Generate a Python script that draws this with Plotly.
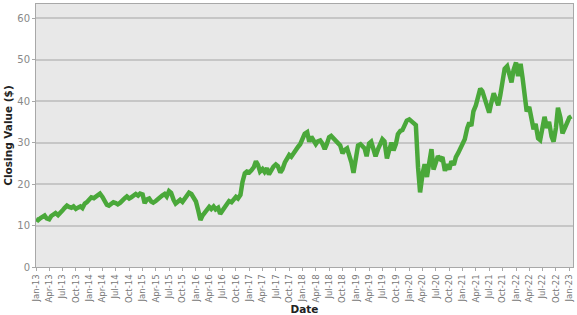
import pandas as pd
import plotly.graph_objects as go

# Semi-monthly closing values (1st and 15th of each month), Jan 2013 - Jan 2023
values = [
    # 2013
    11.6, 11.3, 11.8, 12.2, 12.4, 11.7, 11.5, 12.3, 12.8, 13.0, 12.5, 13.2,
    13.6, 14.2, 14.8, 14.5, 14.3, 14.6, 14.0, 14.3, 14.6, 14.2, 15.3, 15.6,
    # 2014
    16.2, 16.8, 16.6, 16.9, 17.4, 17.7, 16.9, 16.0, 15.0, 14.8, 15.3, 15.6,
    15.4, 15.1, 15.5, 16.1, 16.6, 17.0, 16.5, 16.8, 17.4, 17.6, 17.2, 17.7,
    # 2015
    17.5, 15.4, 16.3, 16.5, 15.8, 15.5, 15.9, 16.4, 16.8, 17.2, 17.6, 17.0,
    18.3, 17.9, 16.2, 15.3, 15.8, 16.2, 15.7, 16.4, 17.5, 17.9, 17.6, 16.9,
    # 2016
    15.8, 13.9, 11.3, 12.4, 13.2, 13.8, 14.5, 14.0, 14.6, 13.9, 14.3, 12.8,
    13.7, 14.6, 15.2, 15.9, 15.6, 16.2, 16.9, 16.5, 17.4, 20.5, 22.6, 23.0,
    # 2017
    22.8, 23.3, 24.1, 25.5, 24.6, 23.0, 23.6, 22.9, 23.8, 22.3, 23.5, 24.2,
    24.7, 24.3, 22.8, 23.5, 25.2, 26.3, 27.0, 26.6, 27.6, 28.3, 29.0, 29.6,
    # 2018
    31.2, 32.1, 32.5, 30.2, 31.4, 30.6, 29.6, 30.3, 30.5, 29.8, 28.4, 29.6,
    31.3, 31.6, 31.0, 30.5, 30.0, 29.3, 27.4, 28.2, 28.6, 27.3, 25.2, 22.7,
    # 2019
    26.5, 29.3, 29.6, 29.2, 28.6, 26.7, 29.8, 30.2, 28.5, 26.7, 28.4, 29.6,
    30.8, 30.3, 26.2, 28.0, 30.0, 28.1, 29.6, 32.0, 32.8, 33.0, 34.2, 35.3,
    # 2020
    35.6, 35.1, 34.6, 34.2, 24.0, 18.0, 22.5, 24.8, 21.7, 24.5, 28.4, 23.5,
    25.5, 26.7, 26.0, 26.5, 23.2, 24.8, 23.5, 25.5, 24.6, 26.5, 27.5, 28.6,
    # 2021
    30.0, 30.8, 33.5, 34.8, 34.0, 37.5, 39.0, 41.5, 43.0, 42.4, 40.2, 38.5,
    37.2, 39.5, 41.9, 40.6, 39.0, 41.4, 44.5, 47.8, 48.4, 46.2, 44.5, 47.5,
    # 2022
    49.3, 46.0, 49.0, 45.5, 40.5, 37.5, 38.6, 35.8, 33.2, 34.5, 31.0, 30.6,
    34.0, 36.2, 33.5, 35.0, 31.5, 30.2, 33.5, 38.4, 36.0, 32.2, 33.5, 34.8,
    # 2023
    36.0, 36.3,
]
dates = pd.date_range("2013-01-01", periods=len(values), freq="SMS")

y_ticks = [0, 10, 20, 30, 40, 50, 60]

fig = go.Figure(
    go.Scatter(
        x=dates, y=values, mode="lines",
        line=dict(color="#4aa83a", width=4.5),
        hoverinfo="skip",
    )
)

fig.update_layout(
    width=577, height=315,
    margin=dict(l=36, r=4, t=3, b=44),
    paper_bgcolor="white",
    plot_bgcolor="#e8e8e8",
    showlegend=False,
    font=dict(family="DejaVu Sans", size=10, color="#777777"),
)

fig.update_xaxes(
    range=["2013-01-01", "2023-01-26"],
    tickformat="%b-%y", dtick="M3", tick0="2013-01-01",
    tickangle=-90, tickfont=dict(size=8.5, color="#777777"),
    showgrid=False, zeroline=False,
    showline=True, linecolor="#a8a8a8", linewidth=1, mirror=True,
    ticks="outside", ticklen=3, tickcolor="#a8a8a8",
    title=dict(text="<b>Date</b>", font=dict(size=10.5, color="#222222"), standoff=2),
)
fig.update_yaxes(
    range=[0, 63.4], tickvals=y_ticks,
    tickfont=dict(size=10, color="#888888"),
    showgrid=True, gridcolor="#c6c6c6", gridwidth=1.5, zeroline=False,
    showline=True, linecolor="#a8a8a8", linewidth=1, mirror=True,
    ticks="outside", ticklen=3, tickcolor="#a8a8a8",
    title=dict(text="<b>Closing Value ($)</b>", font=dict(size=10.5, color="#222222"), standoff=2),
)

fig.write_html("out.html")
